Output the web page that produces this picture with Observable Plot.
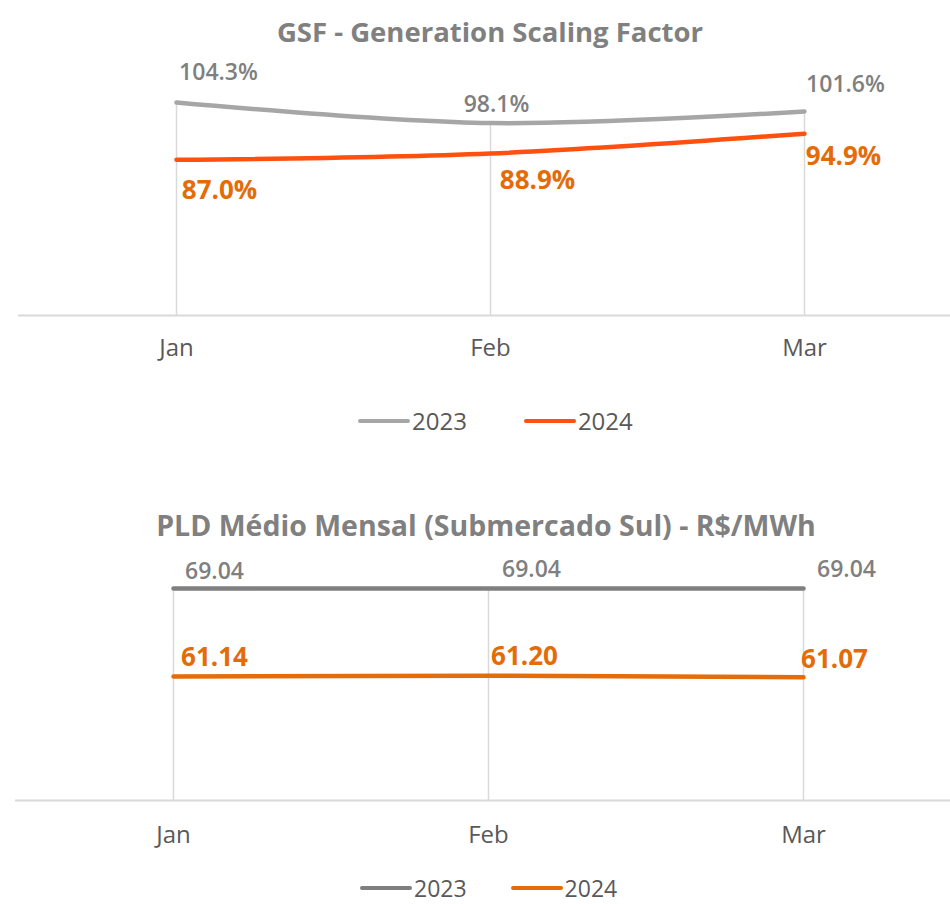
<!DOCTYPE html>
<html><head><meta charset="utf-8">
<script src="https://cdn.jsdelivr.net/npm/d3@7"></script>
<script src="https://cdn.jsdelivr.net/npm/@observablehq/plot@0.6"></script>
<style>
body{margin:0;background:#fff;font-family:"Open Sans",sans-serif;}
#page{position:relative;width:950px;height:904px;overflow:hidden;background:#fff;}
.title{position:absolute;left:0;text-align:center;font-weight:700;color:#808080;height:40px;line-height:40px;white-space:nowrap;}
.chart{position:absolute;left:0;}
.legend{position:absolute;display:flex;align-items:center;height:24px;line-height:24px;color:#595959;}
.sw{display:inline-block;width:52px;height:4px;border-radius:2px;margin-right:2px;}
</style></head>
<body><div id="page"></div>
<script>
const months = ["Jan", "Feb", "Mar"];
const years = ["2023", "2024"];
const gsf2023 = [104.3, 98.1, 101.6];
const gsf2024 = [87.0, 88.9, 94.9];
const pld2023 = [69.04, 69.04, 69.04];
const pld2024 = [61.14, 61.20, 61.07];
const titles = ["GSF - Generation Scaling Factor", "PLD Médio Mensal (Submercado Sul) - R$/MWh"];

const page = document.getElementById("page");

function addTitle(text, centerX, centerY, size) {
  const d = document.createElement("div");
  d.className = "title";
  d.textContent = text;
  d.style.width = (centerX * 2) + "px";
  d.style.top = (centerY - 20) + "px";
  d.style.fontSize = size + "px";
  page.appendChild(d);
}

function addLegend(left, centerY, colors, gap, size) {
  const d = document.createElement("div");
  d.className = "legend";
  d.style.left = left + "px";
  d.style.top = (centerY - 12) + "px";
  d.style.fontSize = size + "px";
  years.forEach((y, i) => {
    const s = document.createElement("span");
    s.className = "sw";
    s.style.background = colors[i];
    const t = document.createElement("span");
    t.textContent = y;
    if (i > 0) s.style.marginLeft = gap + "px";
    d.appendChild(s); d.appendChild(t);
  });
  page.appendChild(d);
}

function chart(o) {
  const d23 = months.map((m, i) => ({month: m, value: o.s23[i]}));
  const d24 = months.map((m, i) => ({month: m, value: o.s24[i]}));
  const drops = months.map((m, i) => ({month: m, top: Math.max(o.s23[i], o.s24[i])}));
  const labels = (data, offs, fill, weight, size) => data.map((d, i) =>
    Plot.text([d], {x: "month", y: "value", text: dd => o.fmt(dd.value),
      dx: offs[i][0], dy: offs[i][1], fill, fontWeight: weight, fontSize: size}));
  const svg = Plot.plot({
    width: 950, height: 330,
    marginTop: o.mt, marginBottom: o.mb, marginLeft: o.ml, marginRight: o.mr,
    x: {type: "point", domain: months, padding: 0.5, label: null},
    y: {domain: [o.yMin, d3.max(o.s23)], axis: null},
    style: {fontFamily: "Open Sans", color: "#595959", overflow: "visible", background: "transparent"},
    marks: [
      Plot.ruleX(drops, {x: "month", y1: o.yMin, y2: "top", stroke: "#D9D9D9", strokeWidth: 1.5}),
      Plot.ruleY([o.yMin], {stroke: "#D9D9D9", strokeWidth: 2}),
      Plot.axisX({tickSize: 0, tickPadding: o.tp, fontSize: 24, fill: "#595959", label: null}),
      Plot.line(d23, {x: "month", y: "value", stroke: o.c23, strokeWidth: 4.5, curve: "catmull-rom", strokeLinecap: "round"}),
      Plot.line(d24, {x: "month", y: "value", stroke: o.c24, strokeWidth: 4.5, curve: "catmull-rom", strokeLinecap: "round"}),
      ...labels(d23, o.off23, o.l23, 600, o.fs23),
      ...labels(d24, o.off24, o.l24, 700, o.fs24)
    ]
  });
  svg.classList.add("chart");
  svg.style.top = o.top + "px";
  page.appendChild(svg);
}

const pct = v => d3.format(".1f")(v) + "%";
const num = d3.format(".2f");

addTitle(titles[0], 490, 32, 27.5);
chart({
  s23: gsf2023, s24: gsf2024, fmt: pct, yMin: 40, top: 40,
  mt: 62, mb: 55, ml: 18, mr: -11, tp: 23,
  c23: "#A6A6A6", c24: "#FF5010", l23: "#7F7F7F", l24: "#E36C09",
  fs23: 23, fs24: 26,
  off23: [[42, -30], [6, -18], [41, -27]],
  off24: [[43, 31], [47, 27], [39, 23]]
});
addLegend(358, 421, ["#A6A6A6", "#FF5010"], 57, 24);

addTitle(titles[1], 486, 525, 28.5);
chart({
  s23: pld2023, s24: pld2024, fmt: num, yMin: 50, top: 540,
  mt: 48, mb: 70, ml: 15, mr: -10, tp: 25,
  c23: "#7F7F7F", c24: "#E46C0A", l23: "#7F7F7F", l24: "#E36C09",
  fs23: 23, fs24: 26,
  off23: [[41, -17], [43, -19], [43, -19]],
  off24: [[41, -19], [36, -19], [31, -18]]
});
addLegend(360, 888, ["#7F7F7F", "#E46C0A"], 44, 23);
</script>
</body></html>
